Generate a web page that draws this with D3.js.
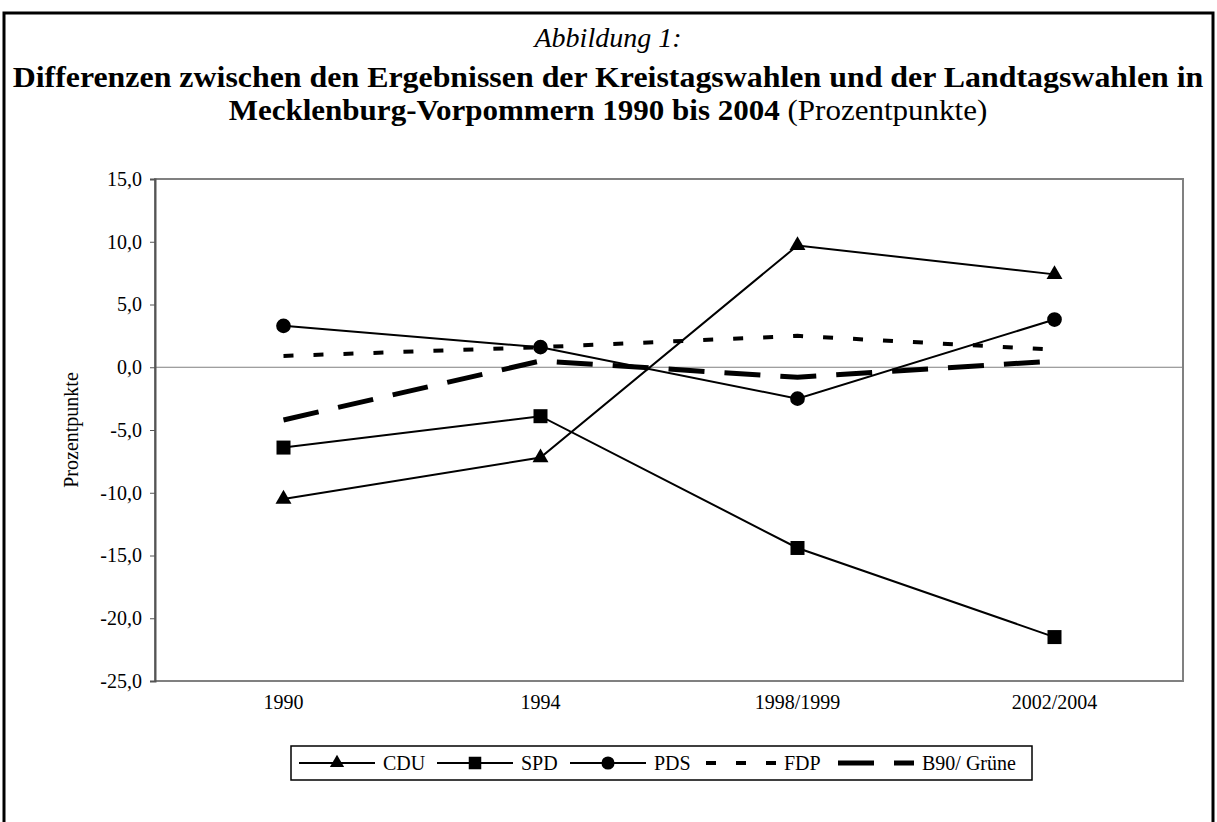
<!DOCTYPE html>
<html>
<head>
<meta charset="utf-8">
<script src="https://cdn.jsdelivr.net/npm/d3@7"></script>
<style>
  body { margin: 0; background: #fff; }
  text { font-family: "Liberation Serif", "Times New Roman", serif; fill: #000; }
</style>
</head>
<body>
<script>
// Kategorien und Werte (Prozentpunkte)
const years = ["1990", "1994", "1998/1999", "2002/2004"];
const cdu = [-10.5, -7.2, 9.7, 7.4];
const spd = [-6.4, -3.9, -14.4, -21.5];
const pds = [3.3, 1.6, -2.5, 3.8];
const fdp = [0.9, 1.6, 2.5, 1.4];
const gruene = [-4.2, 0.5, -0.8, 0.5];
const yTicks = [15, 10, 5, 0, -5, -10, -15, -20, -25];

const series = [
  { name: "CDU", values: cdu, symbol: d3.symbolTriangle, size: 110, dash: null, width: 2 },
  { name: "SPD", values: spd, symbol: d3.symbolSquare, size: 196, dash: null, width: 2 },
  { name: "PDS", values: pds, symbol: d3.symbolCircle, size: 170, dash: null, width: 2 },
  { name: "FDP", values: fdp, symbol: null, dash: "10,20", width: 4 },
  { name: "B90/ Grüne", values: gruene, symbol: null, dash: "36,20", width: 5 }
];

const width = 1217, height = 822;
const svg = d3.select("body").append("svg").attr("width", width).attr("height", height);

// Rahmen um die Abbildung
svg.append("rect").attr("x", 4).attr("y", 13).attr("width", 1209).attr("height", 830)
  .attr("fill", "none").attr("stroke", "#000").attr("stroke-width", 3);

// Titel (leicht in die Breite gezogen, damit die Zeilen nicht kollidieren)
svg.append("text").attr("x", 608).attr("y", 47).attr("text-anchor", "middle")
  .style("font-size", "28px").style("font-style", "italic").text("Abbildung 1:");
svg.append("text").attr("transform", "translate(608,87) scale(1.1,1)").attr("text-anchor", "middle")
  .style("font-size", "29px").style("font-weight", "bold")
  .text("Differenzen zwischen den Ergebnissen der Kreistagswahlen und der Landtagswahlen in");
const t3 = svg.append("text").attr("transform", "translate(608,120) scale(1.07,1)").attr("text-anchor", "middle")
  .style("font-size", "29px");
t3.append("tspan").style("font-weight", "bold").text("Mecklenburg-Vorpommern 1990 bis 2004");
t3.append("tspan").text(" (Prozentpunkte)");

const plot = { left: 155, right: 1183, top: 179, bottom: 681 };

const x = d3.scaleBand().domain(years).range([plot.left, plot.right]).padding(0);
const y = d3.scaleLinear().domain([-25, 15]).range([plot.bottom, plot.top]);
const cx = d => x(d) + x.bandwidth() / 2;

// Plotrahmen
svg.append("rect").attr("x", plot.left).attr("y", plot.top)
  .attr("width", plot.right - plot.left).attr("height", plot.bottom - plot.top)
  .attr("fill", "none").attr("stroke", "#808080").attr("stroke-width", 2);

// Null-Linie
svg.append("line").attr("x1", plot.left).attr("x2", plot.right)
  .attr("y1", y(0)).attr("y2", y(0)).attr("stroke", "#808080").attr("stroke-width", 1);

// Y-Achse
const fmt = v => d3.format(".1f")(v).replace(".", ",").replace("−", "-");
const yAxis = svg.append("g").attr("transform", "translate(" + plot.left + ",0)")
  .call(d3.axisLeft(y).tickValues(yTicks).tickSize(5).tickPadding(8).tickFormat(fmt));
yAxis.attr("font-size", null).attr("font-family", null);
yAxis.select(".domain").attr("stroke", "#555").attr("stroke-width", 2);
yAxis.selectAll(".tick line").attr("stroke", "#555");
yAxis.selectAll("text").style("font-size", "20px");

// X-Beschriftung
const xAxis = svg.append("g").attr("transform", "translate(0," + plot.bottom + ")")
  .call(d3.axisBottom(x).tickSize(0).tickPadding(14));
xAxis.attr("font-size", null).attr("font-family", null);
xAxis.select(".domain").remove();
xAxis.selectAll("text").style("font-size", "20px");

svg.append("text").attr("transform", "translate(78," + ((plot.top + plot.bottom) / 2) + ") rotate(-90)")
  .attr("text-anchor", "middle").style("font-size", "20px").text("Prozentpunkte");

// Linien
const line = d3.line().x((d, i) => cx(years[i])).y(d => y(d));
series.forEach(s => {
  svg.append("path").datum(s.values).attr("d", line)
    .attr("fill", "none").attr("stroke", "#000").attr("stroke-width", s.width)
    .attr("stroke-dasharray", s.dash);
  if (s.symbol) {
    svg.append("g").selectAll("path").data(s.values).enter().append("path")
      .attr("d", d3.symbol().type(s.symbol).size(s.size))
      .attr("transform", (d, i) => "translate(" + cx(years[i]) + "," + y(d) + ")")
      .attr("fill", "#000");
  }
});

// Legende
const legend = svg.append("g").attr("transform", "translate(291,746)");
legend.append("rect").attr("width", 741).attr("height", 34)
  .attr("fill", "#fff").attr("stroke", "#000").attr("stroke-width", 1.5);
const itemX = [8, 146, 279, 409, 547];
series.forEach((s, i) => {
  const g = legend.append("g").attr("transform", "translate(" + itemX[i] + ",17)");
  g.append("line").attr("x1", 0).attr("x2", 76).attr("stroke", "#000")
    .attr("stroke-width", s.width).attr("stroke-dasharray", s.dash)
    .attr("stroke-dashoffset", s.name === "FDP" ? -6 : 0);
  if (s.symbol) {
    g.append("path").attr("d", d3.symbol().type(s.symbol).size(s.size * 0.8))
      .attr("transform", "translate(38,0)").attr("fill", "#000");
  }
  g.append("text").attr("x", 84).attr("dy", "0.35em").style("font-size", "20px").text(s.name);
});
</script>
</body>
</html>
